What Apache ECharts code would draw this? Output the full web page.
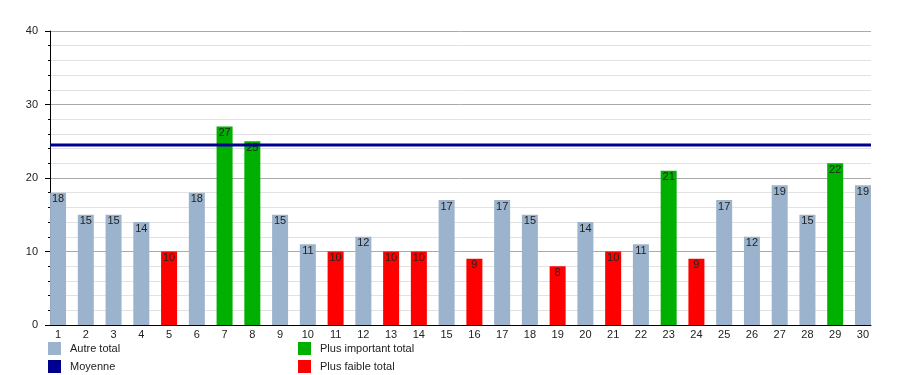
<!DOCTYPE html>
<html><head><meta charset="utf-8">
<script src="https://cdn.jsdelivr.net/npm/echarts@6/dist/echarts.min.js"></script>
<style>html,body{margin:0;padding:0;background:#fff}#c{width:900px;height:375px}</style>
</head><body><div id="c"></div>
<script>
const categories = [1,2,3,4,5,6,7,8,9,10,11,12,13,14,15,16,17,18,19,20,21,22,23,24,25,26,27,28,29,30];
const values = [18,15,15,14,10,18,27,25,15,11,10,12,10,10,17,9,17,15,8,14,10,11,21,9,17,12,19,15,22,19];
// kind: 0 = Autre total, 1 = Plus important total, 2 = Plus faible total
const kinds = [0,0,0,0,2,0,1,1,0,0,2,0,2,2,0,2,0,0,2,0,2,0,1,2,0,0,0,0,1,0];
const meanValue = 24.5;
const yTicks = [0,10,20,30,40];
const seriesNames = ['Autre total','Plus important total','Plus faible total'];
const seriesColors = ['#9bb3cc','#00b000','#ff0000'];

const xMin = 0.71, xMax = 30.29;
const font = 'Liberation Sans, Arial, sans-serif';

const barSeries = seriesNames.map((name, k) => ({
  name, type: 'bar', stack: 'all', barWidth: 16,
  itemStyle: { color: seriesColors[k] },
  label: { show: true, position: 'insideTop', distance: 1, fontSize: 11, color: '#222',
           fontFamily: font, textBorderWidth: 0, textBorderColor: 'transparent' },
  data: categories.map((c, i) => kinds[i] === k ? [c, values[i]] : [c, null])
}));

const legendBase = { orient: 'vertical', itemWidth: 13, itemHeight: 13, itemGap: 6, icon: 'rect',
  textStyle: { fontSize: 11, color: '#222', padding: [0, 0, 0, 4] }, padding: 0 };

const chart = echarts.init(document.getElementById('c'));
chart.setOption({
  animation: false,
  textStyle: { fontFamily: font },
  grid: { left: 50, right: 29, top: 31, bottom: 50 },
  xAxis: {
    type: 'value', min: xMin, max: xMax,
    axisLine: { show: true, onZero: false, lineStyle: { color: '#000', width: 1 } },
    axisTick: { show: false },
    splitLine: { show: false },
    axisLabel: { customValues: categories, fontSize: 11, color: '#222', margin: 4 }
  },
  yAxis: {
    type: 'value', min: 0, max: 40, interval: 10,
    axisLine: { show: true, lineStyle: { color: '#000' } },
    axisTick: { show: true, length: 5, lineStyle: { color: '#000' } },
    minorTick: { show: true, splitNumber: 5, length: 2, lineStyle: { color: '#000' } },
    splitLine: { show: true, lineStyle: { color: '#aaaaaa' } },
    minorSplitLine: { show: true, lineStyle: { color: '#e2e2e2' } },
    axisLabel: { fontSize: 11, color: '#222', margin: 12, customValues: yTicks }
  },
  legend: [
    Object.assign({}, legendBase, { left: 48, top: 342, data: ['Autre total'] }),
    Object.assign({}, legendBase, { left: 48, top: 360, data: ['Moyenne'] }),
    Object.assign({}, legendBase, { left: 298, top: 342, data: ['Plus important total'] }),
    Object.assign({}, legendBase, { left: 298, top: 360, data: ['Plus faible total'] })
  ],
  series: [
    ...barSeries,
    { name: 'Moyenne', type: 'line', showSymbol: false, symbol: 'none', z: 5,
      itemStyle: { color: '#000090' },
      lineStyle: { color: '#000090', width: 3 },
      data: [[xMin, meanValue], [xMax, meanValue]] }
  ]
});
</script></body></html>
